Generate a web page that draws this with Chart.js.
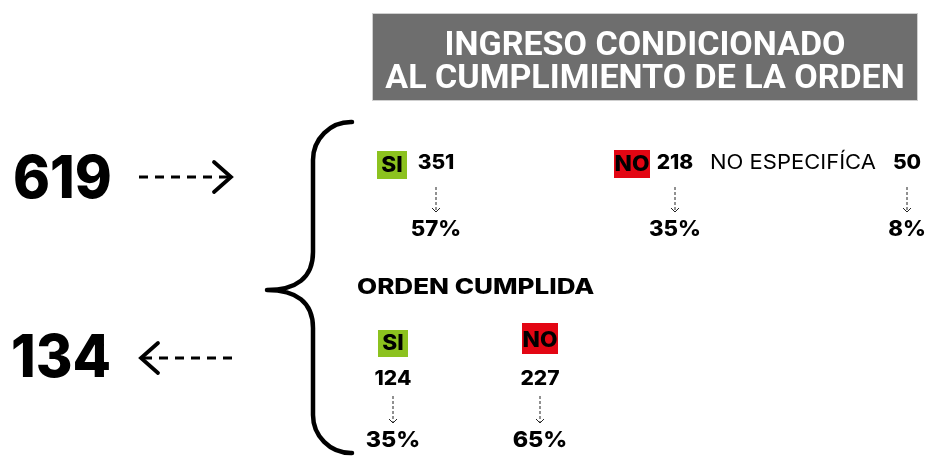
<!DOCTYPE html>
<html>
<head>
<meta charset="utf-8">
<script src="https://cdn.jsdelivr.net/npm/chart.js@4/dist/chart.umd.min.js"></script>
<style>
  html, body { margin: 0; padding: 0; background: #ffffff; }
  #wrap { width: 928px; height: 456px; }
</style>
</head>
<body>
<div id="wrap"><canvas id="c" width="928" height="456"></canvas></div>
<script>
// ---------- DATA ----------
const titleLines = ['INGRESO CONDICIONADO', 'AL CUMPLIMIENTO DE LA ORDEN'];
const totalIngresos = 619;
const totalCumplidas = 134;
const ingresoLabels = ['SI', 'NO', 'NO ESPECIFÍCA'];
const ingresoValues = [351, 218, 50];
const ingresoPct = ['57%', '35%', '8%'];
const cumplidaTitle = 'ORDEN CUMPLIDA';
const cumplidaLabels = ['SI', 'NO'];
const cumplidaValues = [124, 227];
const cumplidaPct = ['35%', '65%'];

// ---------- LAYOUT / STYLE (anchors in a 928 x 456 layout space) ----------
const TITLE_FONT = 'Roboto, "Liberation Sans", sans-serif';
const FONT = 'Inter, Roboto, "Liberation Sans", sans-serif';
const GREEN = '#8cc21f';
const RED = '#e30613';
const labelColors = [GREEN, RED, null];
const ingresoAnchors = [   // centre x of value / arrow / percent column
  { x: 436, labelBox: [377, 151, 407, 179] },
  { x: 675, labelBox: [614, 150, 650, 178] },
  { x: 907, labelText: 710 }
];
const cumplidaAnchors = [
  { x: 393, labelBox: [378, 330, 408, 357] },
  { x: 540, labelBox: [522, 323, 558, 354] }
];

function txt(ctx, s, x, y, size, weight, color, align, family, sx) {
  sx = sx || 1;
  align = align || 'center';
  ctx.save();
  ctx.font = weight + ' ' + size + 'px ' + (family || FONT);
  ctx.fillStyle = color;
  ctx.textAlign = 'left';
  ctx.textBaseline = 'alphabetic';
  const w = ctx.measureText(s).width * sx;
  const x0 = align === 'center' ? x - w / 2 : (align === 'right' ? x - w : x);
  ctx.translate(x0, y);
  ctx.scale(sx, 1);
  ctx.fillText(s, 0, 0);
  ctx.restore();
}

function vArrow(ctx, x, y1, y2) {
  ctx.save();
  ctx.strokeStyle = '#222';
  ctx.lineWidth = 1;
  ctx.setLineDash([3, 2]);
  ctx.beginPath();
  ctx.moveTo(x, y1); ctx.lineTo(x, y2);
  ctx.stroke();
  ctx.setLineDash([]);
  ctx.beginPath();
  ctx.moveTo(x - 4, y2 - 4); ctx.lineTo(x, y2); ctx.lineTo(x + 4, y2 - 4);
  ctx.stroke();
  ctx.restore();
}

function hArrow(ctx, xFrom, xTo, y) {
  ctx.save();
  ctx.strokeStyle = '#000';
  ctx.lineWidth = 3.2;
  ctx.setLineDash([9, 7]);
  ctx.beginPath();
  ctx.moveTo(xFrom, y); ctx.lineTo(xTo, y);
  ctx.stroke();
  ctx.setLineDash([]);
  const d = xTo > xFrom ? -1 : 1;
  ctx.lineCap = 'round';
  ctx.lineWidth = 3.8;
  ctx.beginPath();
  ctx.moveTo(xTo + d * 17, y - 15); ctx.lineTo(xTo, y); ctx.lineTo(xTo + d * 17, y + 15);
  ctx.stroke();
  ctx.restore();
}

const infographic = {
  id: 'infographic',
  afterDatasetsDraw(chart) {
    const ctx = chart.ctx;
    const X = v => chart.scales.x.getPixelForValue(v);
    const Y = v => chart.scales.y.getPixelForValue(v);

    // title box
    ctx.save();
    ctx.fillStyle = '#6e6e6e';
    ctx.strokeStyle = '#cfcfcf';
    ctx.lineWidth = 1;
    ctx.fillRect(X(372), Y(13), X(918) - X(372), Y(101) - Y(13));
    ctx.strokeRect(X(372) + 0.5, Y(13) + 0.5, X(918) - X(372) - 1, Y(101) - Y(13) - 1);
    ctx.restore();
    txt(ctx, titleLines[0], X(645), Y(55), 34, 'bold', '#ffffff', 'center', TITLE_FONT);
    txt(ctx, titleLines[1], X(645), Y(88), 34, 'bold', '#ffffff', 'center', TITLE_FONT);

    // totals
    txt(ctx, String(totalIngresos), X(13), Y(198), 59, '800', '#000', 'left', FONT, 0.95);
    txt(ctx, String(totalCumplidas), X(11), Y(377), 59, '800', '#000', 'left', FONT, 0.95);
    hArrow(ctx, X(139), X(231), Y(177));
    hArrow(ctx, X(232), X(141), Y(358));

    // brace
    ctx.save();
    ctx.strokeStyle = '#000';
    ctx.lineWidth = 4.5;
    ctx.lineCap = 'round';
    ctx.lineJoin = 'round';
    ctx.beginPath();
    ctx.moveTo(X(352), Y(122));
    ctx.arcTo(X(313), Y(122), X(313), Y(170), 38);
    ctx.lineTo(X(313), Y(252));
    ctx.bezierCurveTo(X(313), Y(278), X(296), Y(290), X(267), Y(290));
    ctx.bezierCurveTo(X(296), Y(290), X(313), Y(302), X(313), Y(328));
    ctx.lineTo(X(313), Y(415));
    ctx.arcTo(X(313), Y(453), X(352), Y(453), 38);
    ctx.lineTo(X(352), Y(453));
    ctx.stroke();
    ctx.restore();

    // first row (dataset 0)
    const m0 = chart.getDatasetMeta(0).data;
    m0.forEach((pt, i) => {
      const a = ingresoAnchors[i];
      if (a.labelBox) {
        const b = a.labelBox;
        ctx.fillStyle = labelColors[i];
        ctx.fillRect(X(b[0]), Y(b[1]), X(b[2]) - X(b[0]), Y(b[3]) - Y(b[1]));
        txt(ctx, ingresoLabels[i], (X(b[0]) + X(b[2])) / 2, Y(b[3]) - 7, 21, '800', '#000', 'center', FONT, 1.08);
      } else {
        txt(ctx, ingresoLabels[i], X(a.labelText), pt.y, 20, 'normal', '#000', 'left', FONT, 1.1);
      }
      txt(ctx, String(ingresoValues[i]), pt.x, pt.y, 20, '800', '#000', 'center', FONT, 1.05);
      vArrow(ctx, pt.x, pt.y + 18, pt.y + 43);
      txt(ctx, ingresoPct[i], pt.x, pt.y + 67, 21, '800', '#000', 'center', FONT, 1.06);
    });

    // section title
    txt(ctx, cumplidaTitle, X(357), Y(294), 21, '800', '#000', 'left', FONT, 1.24);

    // second block (dataset 1)
    const m1 = chart.getDatasetMeta(1).data;
    m1.forEach((pt, i) => {
      const b = cumplidaAnchors[i].labelBox;
      ctx.fillStyle = labelColors[i];
      ctx.fillRect(X(b[0]), Y(b[1]), X(b[2]) - X(b[0]), Y(b[3]) - Y(b[1]));
      txt(ctx, cumplidaLabels[i], (X(b[0]) + X(b[2])) / 2, Y(b[3]) - 7, 21, '800', '#000', 'center', FONT, 1.08);
      txt(ctx, String(cumplidaValues[i]), pt.x, pt.y, 20, '800', '#000', 'center', FONT, 1.05);
      vArrow(ctx, pt.x, pt.y + 11, pt.y + 38);
      txt(ctx, cumplidaPct[i], pt.x, pt.y + 62, 22, '800', '#000', 'center', FONT, 1.06);
    });
  }
};

new Chart(document.getElementById('c'), {
  type: 'scatter',
  data: {
    datasets: [
      { label: 'Ingreso condicionado', data: ingresoValues.map((v, i) => ({ x: ingresoAnchors[i].x, y: 169 })), pointRadius: 0 },
      { label: 'Orden cumplida', data: cumplidaValues.map((v, i) => ({ x: cumplidaAnchors[i].x, y: 385 })), pointRadius: 0 }
    ]
  },
  options: {
    responsive: false,
    animation: false,
    layout: { padding: 0 },
    plugins: { legend: { display: false }, tooltip: { enabled: false } },
    scales: {
      x: { type: 'linear', min: 0, max: 928, display: false },
      y: { type: 'linear', min: 0, max: 456, reverse: true, display: false }
    }
  },
  plugins: [infographic]
});
</script>
</body>
</html>
